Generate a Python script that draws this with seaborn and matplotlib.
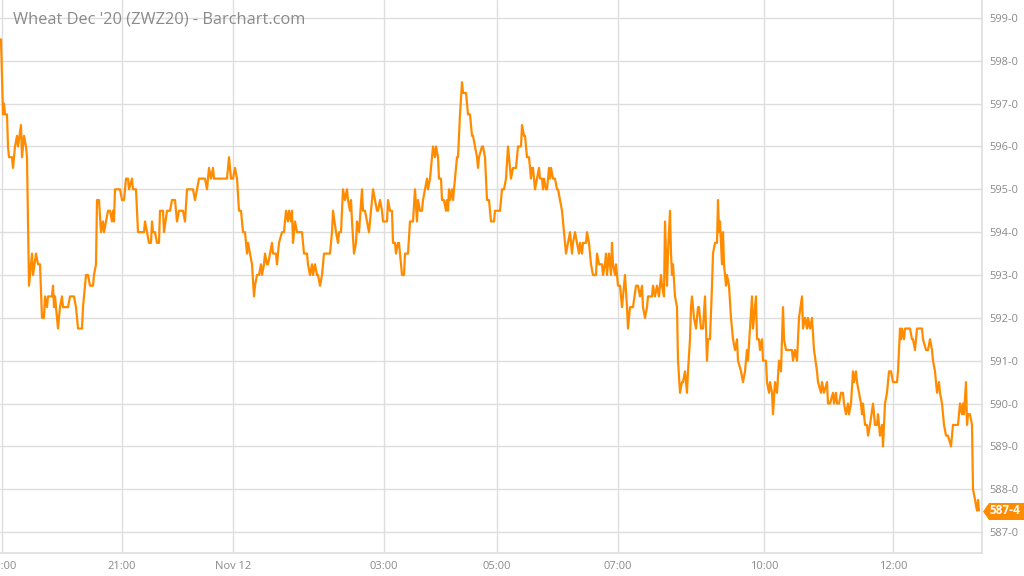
import matplotlib
matplotlib.use("Agg")
import matplotlib.pyplot as plt
import matplotlib.transforms as mtransforms
from matplotlib.path import Path
from matplotlib.ticker import FuncFormatter
import seaborn as sns

# --- data (bar number, last price) ---
bar_no = [
    0, 1, 3, 4, 5, 7, 8, 9, 12, 13, 15, 17, 18, 21, 22, 24, 26, 27, 29, 32,
    33, 36, 38, 40, 42, 44, 45, 47, 48, 52, 53, 54, 55, 58, 60, 62, 63, 68, 70, 74,
    76, 78, 82, 83, 86, 88, 90, 93, 94, 96, 97, 99, 101, 103, 104, 106, 108, 110, 112, 113,
    114, 115, 120, 122, 124, 126, 128, 129, 132, 133, 136, 138, 144, 145, 147, 149, 151, 152, 153, 155,
    157, 159, 160, 163,
    164, 167, 170, 172, 175, 177, 179, 183, 185, 187, 193, 195, 197, 199, 205, 207, 209, 211, 213, 214,
    227, 229, 231, 233, 235, 237, 239, 241, 243, 245, 247, 248, 250, 252, 254, 255, 257, 259, 261, 262,
    264, 265, 267, 268, 272, 273, 276, 277, 279, 282, 284, 286, 288, 289, 291, 292, 293, 295, 297, 302,
    304, 307, 308, 310, 312, 313, 315, 317, 318, 320, 322, 324, 328,
    330, 331, 332, 333, 336, 338, 339, 341, 343, 345, 347, 348, 350, 351, 352, 354, 356, 357, 359, 362,
    363, 365, 367, 369, 371, 373, 375, 377, 378, 380, 382, 383, 387, 388, 390, 392, 393, 395, 396, 398,
    399, 400, 402, 404, 405, 408, 410, 413, 415, 417, 418, 420, 422, 423, 425, 427, 428, 430, 432, 433,
    435, 436, 438, 439, 441, 442, 444, 446, 447, 448, 449, 450, 452, 453, 455, 457, 458, 460, 462, 463,
    466, 468, 470, 472, 473, 475, 477, 478, 479, 482, 483, 485, 487, 489, 491, 493,
    494, 495, 500, 502, 504, 506, 508, 509, 511, 513, 516, 518, 521, 522, 524, 525, 527, 529, 531, 532,
    533, 535, 537, 539, 540, 542, 543, 544, 546, 547, 549, 550, 551, 553, 555, 557, 558, 560, 562, 564,
    566, 568, 570, 572, 573, 575, 577, 579, 580, 582, 583, 586, 587, 589, 591, 593, 596, 597, 599, 602,
    603, 605, 606, 607, 609, 611, 612, 613, 615, 616, 618, 620, 622, 623, 625, 627, 628, 630, 633, 636,
    638, 640, 642, 643, 645, 647, 648, 652, 653, 655, 657,
    659, 661, 662, 664, 665, 667, 668, 670, 671, 672, 673, 675, 677, 678, 680, 682, 683, 685, 687, 688,
    690, 691, 692, 694, 696, 698, 699, 701, 703, 705, 706, 707, 708, 710, 712, 713, 715, 717, 718, 719,
    720, 722, 723, 724, 726, 727, 729, 731, 733, 735, 737, 738, 741, 743, 745, 747, 748, 750, 752, 753,
    754, 756, 757, 759, 760, 762, 763, 766, 767, 769, 770, 772, 773, 775, 777, 779, 781, 783, 784, 786,
    792, 793, 795, 797, 799, 802, 803, 805, 807, 808, 810, 812, 814, 817, 818, 821, 822, 824,
    827, 828, 830, 833, 834, 836, 837, 839, 841, 843, 844, 846, 848, 849, 851, 853, 854, 856, 857, 859,
    861, 862, 863, 865, 867, 868, 870, 873, 875, 877, 878, 880, 882, 883, 885, 887, 889, 891, 893, 894,
    897, 898, 900, 901, 902, 904, 905, 910, 912, 913, 915, 917, 922, 923, 926, 928, 930, 932, 933, 935,
    937, 939, 940, 942, 944, 946, 948, 951, 953, 957, 958, 960, 962, 963, 964, 966, 967, 968, 970, 972,
    973, 975, 977, 978, 979,
]
price = [
    598.5, 598.5, 596.75, 597.0, 596.75, 596.75, 596.0, 595.75, 595.75, 595.5, 596.0, 596.25, 596.0, 596.5, 595.75, 596.25, 596.0, 595.75, 592.75, 593.5,
    593.0, 593.5, 593.25, 593.25, 592.0, 592.0, 592.5, 592.25, 592.5, 592.5, 592.75, 592.25, 592.5, 591.75, 592.25, 592.5, 592.25, 592.25, 592.5, 592.5,
    592.25, 591.75, 591.75, 592.25, 593.0, 593.0, 592.75, 592.75, 593.0, 593.25, 594.75, 594.75, 594.0, 594.25, 594.0, 594.25, 594.5, 594.5, 594.25, 594.5,
    594.25, 595.0, 595.0, 594.75, 594.75, 595.25, 595.25, 595.0, 595.25, 595.0, 595.0, 594.0, 594.0, 594.25, 594.0, 593.75, 593.75, 594.25, 594.0, 594.0,
    593.75, 593.75, 594.5, 594.5,
    594.0, 594.5, 594.5, 594.75, 594.75, 594.25, 594.5, 594.5, 594.25, 595.0, 595.0, 594.75, 595.0, 595.25, 595.25, 595.0, 595.5, 595.25, 595.5, 595.25,
    595.25, 595.75, 595.25, 595.25, 595.5, 595.25, 594.5, 594.5, 594.0, 594.0, 593.5, 593.75, 593.5, 593.25, 592.5, 592.75, 593.0, 593.0, 593.25, 593.0,
    593.25, 593.5, 593.25, 593.25, 593.75, 593.5, 593.5, 593.25, 593.75, 594.0, 594.0, 594.5, 594.25, 594.5, 594.25, 594.5, 593.75, 594.25, 594.0, 594.0,
    593.5, 593.5, 593.25, 593.0, 593.25, 593.0, 593.25, 593.0, 593.0, 592.75, 593.0, 593.5, 593.5,
    593.5, 593.75, 594.0, 594.5, 594.0, 593.75, 594.0, 594.0, 595.0, 594.75, 595.0, 594.75, 594.5, 594.75, 594.25, 593.5, 593.75, 594.25, 594.0, 595.0,
    594.5, 594.5, 594.25, 594.0, 594.5, 595.0, 594.75, 594.5, 594.5, 594.75, 594.5, 594.25, 594.25, 594.75, 594.5, 594.5, 593.75, 593.75, 593.5, 593.75,
    593.75, 593.5, 593.0, 593.0, 593.5, 593.5, 594.25, 594.25, 595.0, 594.25, 594.75, 594.5, 594.5, 594.75, 595.0, 595.25, 595.0, 595.25, 595.75, 596.0,
    595.75, 596.0, 595.75, 595.25, 595.25, 594.75, 594.75, 594.5, 594.75, 594.5, 595.0, 594.75, 595.0, 594.75, 595.25, 595.75, 595.75, 596.75, 597.5, 597.25,
    597.25, 596.75, 596.75, 596.25, 596.25, 596.0, 595.75, 595.5, 595.75, 596.0, 596.0, 595.75, 594.75, 594.75, 594.25, 594.25,
    594.25, 594.5, 594.5, 595.0, 595.0, 595.25, 596.0, 595.75, 595.25, 595.5, 595.5, 596.0, 596.0, 596.5, 596.25, 596.25, 595.75, 595.75, 595.25, 595.5,
    595.5, 595.0, 595.25, 595.5, 595.25, 595.25, 595.0, 595.25, 595.0, 595.0, 595.5, 595.25, 595.5, 595.25, 595.25, 595.0, 595.0, 594.75, 594.5, 594.0,
    593.5, 593.75, 594.0, 593.5, 593.75, 594.0, 593.75, 593.5, 593.75, 593.5, 593.75, 593.75, 594.0, 593.75, 593.25, 593.0, 593.0, 593.5, 593.25, 593.25,
    593.0, 593.25, 593.5, 593.0, 593.5, 593.0, 593.75, 593.25, 593.0, 593.25, 592.75, 592.75, 592.25, 592.5, 593.0, 592.25, 591.75, 592.25, 592.25, 592.75,
    592.75, 592.5, 592.75, 592.25, 592.0, 592.25, 592.5, 592.5, 592.75, 592.5, 592.75,
    592.5, 593.0, 592.75, 592.5, 594.25, 592.75, 593.5, 594.5, 593.5, 593.0, 593.25, 592.5, 592.25, 591.0, 590.25, 590.5, 590.5, 590.75, 590.25, 590.75,
    591.5, 592.25, 592.5, 592.0, 591.75, 592.25, 592.25, 591.75, 591.75, 592.5, 591.75, 591.0, 591.5, 591.5, 592.75, 593.5, 593.75, 593.75, 594.75, 594.0,
    594.25, 593.25, 594.0, 593.25, 592.75, 593.0, 592.75, 592.0, 591.5, 591.25, 591.5, 591.0, 590.75, 590.5, 590.75, 591.25, 591.0, 591.75, 592.5, 591.75,
    592.0, 592.5, 591.5, 591.5, 591.25, 591.5, 591.0, 591.0, 590.5, 590.25, 590.5, 590.25, 589.75, 590.5, 590.25, 591.0, 590.75, 592.25, 591.5, 591.25,
    591.25, 591.0, 591.25, 591.0, 592.0, 592.5, 591.75, 592.0, 591.75, 592.0, 591.75, 592.0, 591.25, 590.75, 590.5, 590.25, 590.5, 590.25,
    590.5, 590.0, 590.0, 590.25, 590.0, 590.25, 590.0, 590.0, 590.25, 590.25, 590.0, 589.75, 590.0, 589.75, 590.0, 590.75, 590.5, 590.75, 590.5, 590.25,
    590.0, 589.75, 590.0, 589.5, 589.5, 589.25, 589.5, 590.0, 589.5, 589.5, 589.75, 589.25, 589.5, 589.0, 590.0, 590.25, 590.75, 590.75, 590.5, 590.5,
    590.5, 590.75, 591.75, 591.5, 591.75, 591.5, 591.75, 591.75, 591.5, 591.5, 591.25, 591.75, 591.75, 591.5, 591.25, 591.25, 591.5, 591.25, 591.0, 590.75,
    590.25, 590.5, 590.25, 590.0, 589.5, 589.25, 589.25, 589.0, 589.5, 589.5, 589.5, 590.0, 589.75, 590.0, 589.75, 590.5, 589.5, 589.75, 589.75, 589.5,
    588.0, 587.75, 587.5, 587.75, 587.5,
]

tick_bars = [2, 122, 233, 384, 497, 618, 764, 893]
tick_labels = ["19:00", "21:00", "Nov 12", "03:00", "05:00", "07:00", "10:00", "12:00"]
price_ticks = list(range(587, 600))

title = "Wheat Dec '20 (ZWZ20) - Barchart.com"
line_color = "#ff8c00"
grid_color = "#dedede"
text_color = "#8a8a8a"


def fmt_price(v, pos=None):
    # futures style: whole cents - eighths
    whole = int(v)
    eighths = int(round((v - whole) * 8))
    return f"{whole}-{eighths}"


sns.set_theme(style="white")
plt.rcParams["font.family"] = ["Open Sans", "DejaVu Sans"]

fig = plt.figure(figsize=(10.24, 5.76), dpi=100, facecolor="white")
ax = fig.add_axes([0, 23 / 576, 982 / 1024, 553 / 576])

sns.lineplot(x=bar_no, y=price, ax=ax, color=line_color, linewidth=1.6,
             estimator=None, sort=False)

ax.set_xlim(0, 982)
ax.set_ylim(586.51, 599.42)
ax.set_xlabel("")
ax.set_ylabel("")

ax.set_xticks(tick_bars)
ax.set_xticklabels(tick_labels)
ax.yaxis.tick_right()
ax.set_yticks(price_ticks)
ax.yaxis.set_major_formatter(FuncFormatter(fmt_price))
ax.tick_params(axis="both", length=0, labelsize=8, labelcolor=text_color)
ax.tick_params(axis="y", pad=5)
ax.tick_params(axis="x", pad=6)

ax.grid(True, color=grid_color, linewidth=1)
ax.set_axisbelow(True)
for side in ["left", "top"]:
    ax.spines[side].set_visible(False)
for side in ["right", "bottom"]:
    ax.spines[side].set_color(grid_color)
    ax.spines[side].set_linewidth(1.2)

# last price tag on the right axis
trans = mtransforms.blended_transform_factory(ax.transAxes, ax.transData)
tag = Path([(-1, 0), (-0.71, 0.415), (1, 0.415), (1, -0.415), (-0.71, -0.415), (-1, 0)], closed=True)
ax.plot([1.0209], [price[-1]], marker=tag, markersize=29.5, color=line_color,
        markeredgewidth=0, linestyle="none", transform=trans, clip_on=False)
ax.text(1.0229, price[-1], fmt_price(price[-1]), transform=trans, ha="center", va="center",
        color="white", fontweight="bold", fontsize=8.5, clip_on=False)

fig.text(13 / 1024, 1 - 19 / 576, title, ha="left", va="center", fontsize=11.8, color=text_color)

fig.savefig("out.png", dpi=100)
